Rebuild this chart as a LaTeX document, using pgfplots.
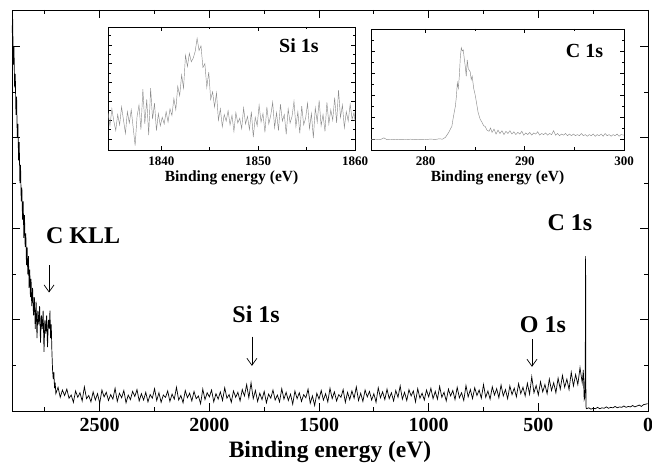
\documentclass[border=0pt]{standalone}
\usepackage{fontspec}
\setmainfont{Liberation Serif}
\usepackage{pgfplots}
\pgfplotsset{compat=1.18}
\usetikzlibrary{arrows.meta}

\pgfplotsset{
  xpsbox/.style={
    scale only axis,
    axis line style={line width=0.9pt},
    tick align=inside,
    tick style={line width=0.8pt, black},
    /pgf/number format/assume math mode=true,
    /pgf/number format/1000 sep={},
    yticklabels={},
  },
  inset/.style={
    xpsbox,
    anchor=south west,
    major tick length=4pt, minor tick length=2.5pt,
    tick style={line width=0.6pt, black},
    axis line style={line width=0.7pt},
    xticklabel style={font=\fontsize{13}{13}\selectfont\bfseries, yshift=-3pt},
    xlabel={Binding energy (eV)},
    xlabel style={font=\fontsize{15.5}{16}\selectfont\bfseries, yshift=1pt},
  },
}

\begin{document}
\begin{tikzpicture}
\begin{axis}[xpsbox,
  name=main,
  width=636pt, height=401pt,
  xmin=0, xmax=2900, x dir=reverse,
  ymin=0, ymax=8.8,
  xtick={0,500,...,2500}, minor xtick={250,750,...,2750},
  ytick={2,4,6,8}, minor ytick={1,3,5,7},
  major tick length=8pt, minor tick length=4pt,
  xticklabel style={font=\fontsize{20}{20}\selectfont\bfseries, yshift=-4pt},
  xlabel={Binding energy (eV)},
  xlabel style={font=\fontsize{23.5}{24}\selectfont\bfseries, yshift=-2pt},
]
\addplot[black, line width=0.7pt, no marks] table {
E y
2900 8.3
2897 8.6
2894 7.6
2891 8.0
2888 7.1
2885 7.4
2882 6.5
2879 6.9
2876 6.0
2873 6.3
2870 5.5
2867 5.9
2864 5.0
2861 5.4
2858 4.6
2855 4.9
2852 4.2
2849 4.6
2846 3.8
2843 4.3
2840 3.6
2837 3.9
2834 3.2
2831 3.6
2828 3.0
2825 3.4
2822 2.7
2819 3.1
2816 2.5
2813 2.9
2810 2.3
2806 2.7
2802 2.1
2798 2.5
2794 1.8
2790 2.4
2786 1.6
2782 2.2
2778 1.9
2774 2.3
2770 1.5
2766 2.1
2762 1.8
2758 2.2
2754 1.3
2750 2.0
2746 1.7
2742 2.1
2738 1.4
2734 2.0
2730 1.8
2727 2.2
2724 1.6
2721 1.9
2718 1.3
2715 0.9
2712 0.7
2709 0.85
2706 0.5
2703 0.62
2700 0.38
2690 0.52
2680 0.30
2670 0.46
2660 0.34
2650 0.48
2640 0.28
2630 0.35
2620 0.19
2610 0.44
2600 0.30
2590 0.40
2580 0.22
2570 0.53
2560 0.27
2550 0.34
2540 0.20
2530 0.42
2520 0.24
2510 0.38
2500 0.17
2490 0.46
2480 0.31
2470 0.41
2460 0.23
2450 0.36
2440 0.26
2430 0.50
2420 0.21
2410 0.39
2400 0.29
2390 0.45
2380 0.18
2370 0.35
2360 0.25
2350 0.43
2340 0.32
2330 0.47
2320 0.22
2310 0.38
2300 0.24
2290 0.41
2280 0.20
2270 0.36
2260 0.28
2250 0.49
2240 0.23
2230 0.40
2220 0.19
2210 0.35
2200 0.30
2190 0.44
2180 0.21
2170 0.37
2160 0.26
2150 0.52
2140 0.24
2130 0.34
2120 0.18
2110 0.45
2100 0.29
2090 0.39
2080 0.22
2070 0.43
2060 0.27
2050 0.33
2040 0.16
2030 0.48
2020 0.25
2010 0.40
2000 0.31
1990 0.46
1980 0.20
1970 0.38
1960 0.26
1950 0.42
1940 0.23
1930 0.51
1920 0.28
1910 0.36
1900 0.19
1890 0.44
1880 0.30
1870 0.41
1860 0.22
1850 0.47
1840 0.33
1830 0.58
1820 0.29
1810 0.62
1800 0.27
1790 0.45
1780 0.21
1770 0.39
1760 0.25
1750 0.43
1740 0.18
1730 0.37
1720 0.28
1710 0.46
1700 0.24
1690 0.35
1680 0.20
1670 0.49
1660 0.26
1650 0.41
1640 0.23
1630 0.37
1620 0.15
1610 0.44
1600 0.27
1590 0.40
1580 0.21
1570 0.36
1560 0.29
1550 0.48
1540 0.17
1530 0.33
1520 0.12
1510 0.39
1500 0.26
1490 0.45
1480 0.24
1470 0.38
1460 0.20
1450 0.50
1440 0.27
1430 0.42
1420 0.22
1410 0.36
1400 0.30
1390 0.47
1380 0.19
1370 0.41
1360 0.25
1350 0.44
1340 0.28
1330 0.53
1320 0.23
1310 0.39
1300 0.21
1290 0.46
1280 0.31
1270 0.43
1260 0.24
1250 0.38
1240 0.19
1230 0.51
1220 0.29
1210 0.42
1200 0.25
1190 0.48
1180 0.27
1170 0.40
1160 0.22
1150 0.45
1140 0.30
1130 0.55
1120 0.26
1110 0.41
1100 0.23
1090 0.47
1080 0.33
1070 0.44
1060 0.20
1050 0.49
1040 0.28
1030 0.39
1020 0.24
1010 0.46
1000 0.31
990 0.50
980 0.27
970 0.43
960 0.26
950 0.54
940 0.30
930 0.41
920 0.22
910 0.48
900 0.33
890 0.45
880 0.25
870 0.52
860 0.29
850 0.40
840 0.23
830 0.56
820 0.31
810 0.47
800 0.27
790 0.51
780 0.34
770 0.46
760 0.28
750 0.58
740 0.30
730 0.44
720 0.26
710 0.53
700 0.35
690 0.49
680 0.29
670 0.57
660 0.33
650 0.47
640 0.27
630 0.55
620 0.36
610 0.50
600 0.31
590 0.60
580 0.38
570 0.52
560 0.33
550 0.61
540 0.37
530 0.75
520 0.40
510 0.56
500 0.35
490 0.64
480 0.42
470 0.58
460 0.38
450 0.70
440 0.45
430 0.62
420 0.40
410 0.72
400 0.48
390 0.78
380 0.52
370 0.70
360 0.47
350 0.85
340 0.55
330 0.80
320 0.58
310 0.95
300 0.62
295 0.90
291 0.25
288 0.30
286 1.00
284.5 3.40
283 0.10
281 0.05
270 0.07
260 0.04
250 0.06
240 0.05
230 0.08
220 0.05
210 0.07
200 0.06
190 0.09
180 0.06
170 0.08
160 0.07
150 0.10
140 0.07
130 0.09
120 0.08
110 0.11
100 0.08
90 0.10
80 0.09
70 0.12
60 0.09
50 0.11
40 0.13
30 0.10
20 0.14
10 0.15
2 0.16
};
\tikzset{lbl/.style={font=\fontsize{24}{24}\selectfont\bfseries},
         pk/.style={-{Straight Barb[length=7pt,width=10pt]}, line width=0.7pt}}
\node[lbl] at (axis cs:2576,3.85) {C KLL};
\draw[pk] (axis cs:2731,3.2) -- (axis cs:2731,2.6);
\node[lbl] at (axis cs:1787,2.13) {Si 1s};
\draw[pk] (axis cs:1806,1.63) -- (axis cs:1806,0.99);
\node[lbl] at (axis cs:479,1.89) {O 1s};
\draw[pk] (axis cs:529,1.58) -- (axis cs:529,0.97);
\node[lbl] at (axis cs:356,4.13) {C 1s};
\end{axis}

% Si 1s inset
\begin{axis}[inset,
  at={(main.south west)}, xshift=96pt, yshift=261pt,
  width=247pt, height=123pt,
  xmin=1834.5, xmax=1860, ymin=-0.17, ymax=12.9,
  xtick={1840,1850,1860}, minor xtick={1845,1855},
  ytick={1,3,...,11}, minor ytick={2,4,...,12},
]
\addplot[black!45, line width=0.45pt, no marks] table {
E y
1834.5 3.8
1834.7 2.4
1834.9 4.2
1835.1 2.9
1835.3 1.9
1835.5 3.6
1835.7 2.5
1835.9 4.4
1836.1 3.0
1836.3 1.6
1836.5 3.9
1836.7 2.7
1836.9 4.1
1837.1 2.2
1837.3 0.3
1837.5 3.4
1837.7 4.6
1837.9 2.0
1838.1 6.3
1838.3 2.6
1838.5 5.2
1838.7 1.4
1838.9 6.4
1839.1 3.1
1839.3 4.8
1839.5 1.9
1839.7 3.7
1839.9 2.4
1840.1 3.3
1840.3 2.6
1840.5 3.9
1840.7 2.8
1840.9 4.2
1841.1 3.5
1841.3 5.3
1841.5 4.1
1841.7 6.6
1841.9 5.6
1842.1 7.8
1842.3 6.4
1842.5 9.9
1842.7 8.7
1842.9 10.1
1843.1 9.2
1843.3 9.6
1843.5 10.3
1843.7 11.7
1843.9 10.4
1844.1 10.9
1844.3 8.6
1844.5 9.0
1844.7 6.5
1844.9 8.1
1845.1 5.2
1845.3 6.0
1845.5 4.4
1845.7 5.9
1845.9 3.0
1846.1 4.2
1846.3 2.3
1846.5 3.6
1846.7 2.9
1846.9 4.0
1847.1 2.5
1847.3 3.5
1847.5 1.8
1847.7 3.8
1847.9 2.7
1848.1 3.2
1848.3 2.1
1848.5 4.3
1848.7 2.6
1848.9 3.4
1849.1 2.0
1849.3 3.9
1849.5 1.2
1849.7 3.3
1849.9 2.4
1850.1 4.6
1850.3 2.8
1850.5 3.7
1850.7 1.7
1850.9 4.4
1851.1 2.6
1851.3 3.5
1851.5 4.9
1851.7 2.2
1851.9 3.8
1852.1 1.9
1852.3 4.7
1852.5 2.9
1852.7 3.6
1852.9 1.5
1853.1 4.2
1853.3 2.7
1853.5 3.4
1853.7 5.0
1853.9 2.3
1854.1 3.9
1854.3 1.6
1854.5 4.5
1854.7 2.5
1854.9 3.2
1855.1 4.8
1855.3 2.1
1855.5 3.7
1855.7 1.1
1855.9 4.3
1856.1 2.8
1856.3 5.1
1856.5 2.4
1856.7 3.6
1856.9 1.8
1857.1 4.9
1857.3 2.6
1857.5 4.1
1857.7 3.0
1857.9 5.4
1858.1 2.7
1858.3 6.2
1858.5 3.3
1858.7 4.6
1858.9 2.2
1859.1 3.9
1859.3 2.9
1859.5 4.7
1859.7 3.1
1859.9 3.8
1860.0 2.9
};
\node[font=\fontsize{20}{20}\selectfont\bfseries] at (rel axis cs:0.773,0.846) {Si 1s};
\end{axis}

% C 1s inset
\begin{axis}[inset,
  at={(main.south west)}, xshift=359pt, yshift=261pt,
  width=253pt, height=121pt,
  xmin=274.5, xmax=300, ymin=0, ymax=11,
  xtick={280,290,300}, minor xtick={285,295},
  ytick={1,3,...,9}, minor ytick={2,4,...,10},
]
\addplot[black!45, line width=0.45pt, no marks] table {
E y
274.5 0.95
275.0 0.93
275.5 0.97
275.8 1.10
276.1 0.94
276.6 0.96
277.0 0.93
277.5 0.97
278.0 0.95
278.5 0.98
279.0 0.94
279.5 0.97
280.0 0.95
280.5 0.99
281.0 0.96
281.4 1.02
281.7 0.98
282.0 1.15
282.3 1.55
282.5 1.90
282.65 2.15
282.8 3.0
283.0 3.96
283.1 4.8
283.2 6.1
283.3 5.6
283.4 6.7
283.5 8.4
283.6 9.3
283.7 9.0
283.8 9.1
283.9 8.3
284.0 7.6
284.1 6.7
284.2 8.2
284.3 7.4
284.5 7.1
284.6 6.4
284.7 6.7
284.85 5.6
285.0 5.0
285.15 4.2
285.3 3.4
285.5 2.8
285.7 2.5
285.85 2.2
286.0 2.15
286.2 1.8
286.4 1.7
286.55 2.0
286.7 1.6
286.9 1.9
287.1 1.45
287.3 1.8
287.5 1.5
287.7 1.75
287.9 1.4
288.1 1.7
288.3 1.5
288.5 1.75
288.7 1.45
288.9 1.65
289.1 1.4
289.3 1.6
289.5 1.45
289.7 1.7
289.9 1.35
290.1 1.55
290.3 1.4
290.5 1.6
290.7 1.35
290.9 1.55
291.1 1.45
291.3 1.65
291.5 1.35
291.7 1.5
291.9 1.4
292.1 1.55
292.3 1.35
292.5 1.5
292.7 1.4
292.9 1.75
293.1 1.35
293.3 1.5
293.5 1.3
293.7 1.45
293.9 1.35
294.1 1.5
294.3 1.3
294.5 1.45
294.7 1.3
294.9 1.45
295.1 1.3
295.3 1.4
295.5 1.3
295.7 1.5
295.9 1.3
296.1 1.4
296.3 1.25
296.5 1.4
296.7 1.3
296.9 1.45
297.1 1.25
297.3 1.4
297.5 1.3
297.7 1.45
297.9 1.25
298.1 1.5
298.3 1.3
298.5 1.4
298.7 1.25
298.9 1.4
299.1 1.3
299.3 1.45
299.5 1.25
299.7 1.4
300.0 1.35
};
\node[font=\fontsize{20}{20}\selectfont\bfseries] at (rel axis cs:0.844,0.818) {C 1s};
\end{axis}

\pgfresetboundingbox
\path[use as bounding box] ([xshift=-12pt,yshift=-55pt]main.south west) rectangle ([xshift=4pt,yshift=10pt]main.north east);
\end{tikzpicture}
\end{document}
